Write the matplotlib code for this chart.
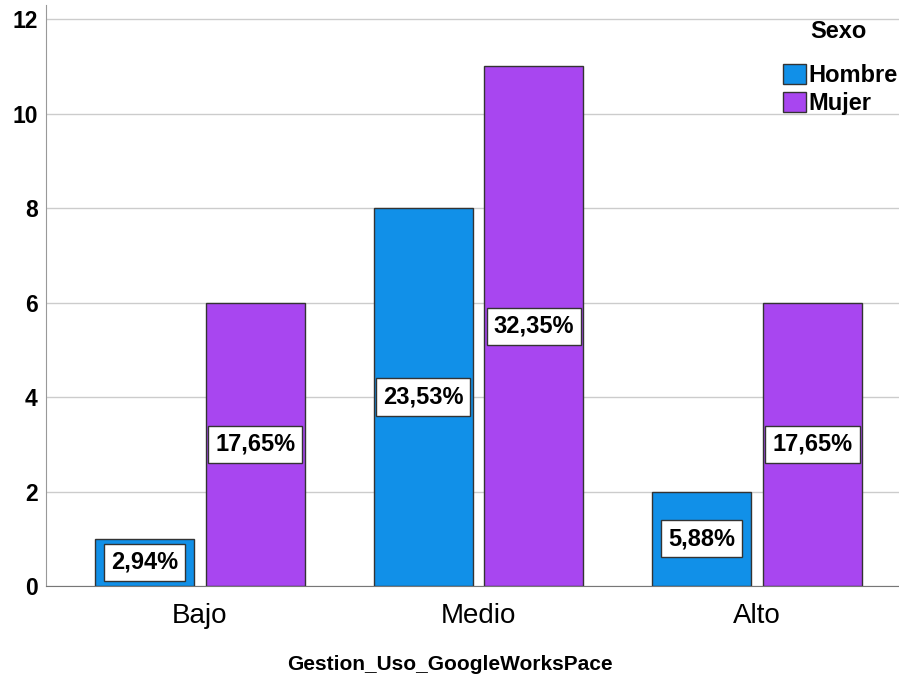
import numpy as np
import matplotlib.pyplot as plt

plt.rcParams['font.family'] = ['Liberation Sans', 'DejaVu Sans']

categorias = ['Bajo', 'Medio', 'Alto']
hombre = [1, 8, 2]
mujer = [6, 11, 6]
pct_hombre = ['2,94%', '23,53%', '5,88%']
pct_mujer = ['17,65%', '32,35%', '17,65%']

col_h = '#1190e8'
col_m = '#a846f0'

fig = plt.figure(figsize=(8.99, 6.81), dpi=100)
ax = fig.add_axes([46 / 899, 1 - 586 / 681, 853 / 899, 581 / 681])

x = np.arange(len(categorias))
w = 0.355
off = 0.199
ax.bar(x - off, hombre, w, color=col_h, edgecolor='#333333', linewidth=1, label='Hombre', zorder=3)
ax.bar(x + off, mujer, w, color=col_m, edgecolor='#333333', linewidth=1, label='Mujer', zorder=3)

# etiquetas de porcentaje
caja = dict(boxstyle='square,pad=0.3', facecolor='white', edgecolor='#333333', linewidth=1)
for i in range(len(categorias)):
    ax.text(x[i] - off, hombre[i] / 2, pct_hombre[i], ha='center', va='center',
            fontsize=17, fontweight='bold', bbox=caja, zorder=4)
    ax.text(x[i] + off, mujer[i] / 2, pct_mujer[i], ha='center', va='center',
            fontsize=17, fontweight='bold', bbox=caja, zorder=4)

ax.set_xlim(-0.552, 2.509)
ax.set_ylim(0, 12.3)
ax.set_yticks([0, 2, 4, 6, 8, 10, 12])
ax.set_xticks(x)
ax.set_xticklabels(categorias, fontsize=20)
for t in ax.get_yticklabels():
    t.set_fontsize(16.5)
    t.set_fontweight('bold')
ax.tick_params(axis='y', length=0, pad=6)
ax.tick_params(axis='x', length=0, pad=12)
ax.grid(axis='y', color='#cccccc', linewidth=1, zorder=0)
ax.set_axisbelow(True)

for s in ['top', 'right']:
    ax.spines[s].set_visible(False)
ax.spines['left'].set_color('#999999')
ax.spines['bottom'].set_color('#777777')

fig.text(0.5, 1 - 665 / 681, 'Gestion_Uso_GoogleWorksPace', fontsize=15, fontweight='bold',
         ha='center', va='center')

fig.text(838 / 899, 1 - 32 / 681, 'Sexo', fontsize=17, fontweight='bold', ha='center', va='center')
ax.legend(loc='upper right', bbox_to_anchor=(1.023, 0.935), frameon=False,
          prop={'size': 17, 'weight': 'bold'},
          handlelength=0.95, handleheight=0.95, handletextpad=0.1, labelspacing=0.2)

fig.savefig('out.png', dpi=100)
